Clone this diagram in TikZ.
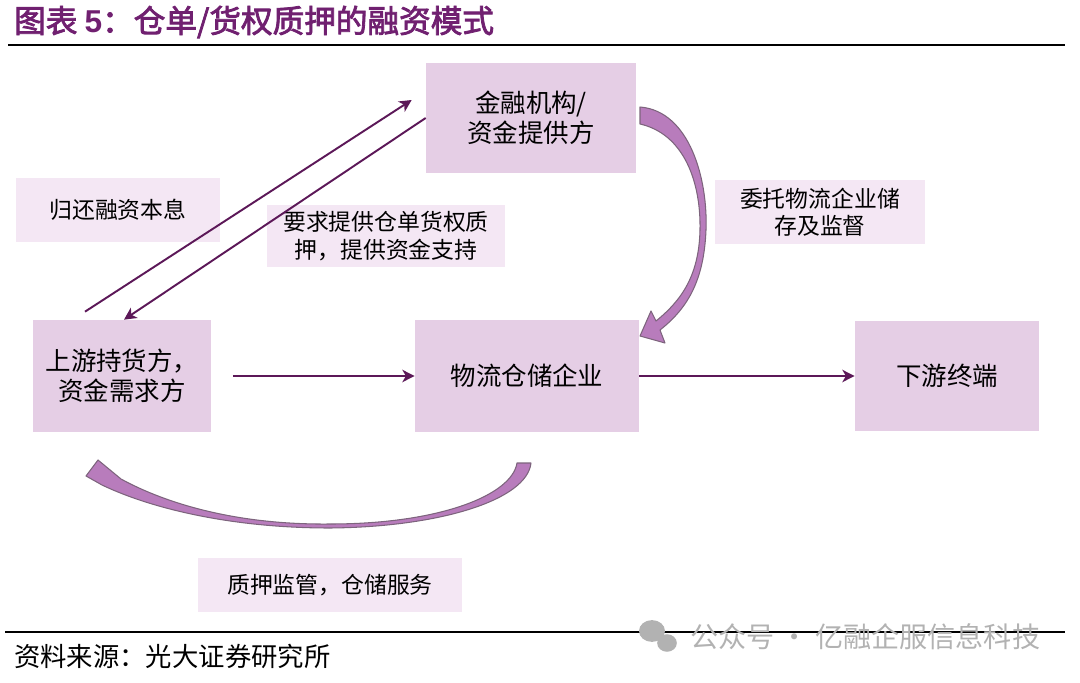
\documentclass[tikz,border=0pt]{standalone}
\usepackage{fontspec}
\setmainfont{Noto Sans CJK SC}
\newfontfamily\titlefont[FakeBold=2.5]{Noto Sans CJK SC}
\newfontfamily\numfont{Liberation Sans}
\usetikzlibrary{arrows.meta}
\definecolor{boxpurple}{RGB}{229,206,229}
\definecolor{notepurple}{RGB}{244,231,244}
\definecolor{linepurple}{RGB}{92,24,88}
\definecolor{bendpurple}{RGB}{184,124,188}
\definecolor{bendedge}{RGB}{125,100,125}
\definecolor{headpurple}{RGB}{112,32,112}

\begin{document}
\begin{tikzpicture}[x=0.02cm,y=-0.02cm,
  party/.style={fill=boxpurple,inner sep=0pt,align=center,font=\fontsize{14.5}{17}\selectfont},
  note/.style={fill=notepurple,inner sep=0pt,align=center,font=\fontsize{13}{15.5}\selectfont},
  flow/.style={linepurple,line width=1.1pt,-{Stealth[length=7pt,width=7pt,inset=2pt]}},
  bigarrow/.style={fill=bendpurple,draw=bendedge,line width=.6pt,line join=round}
]
\useasboundingbox (0,0) rectangle (1080,683);
\node[anchor=west,text=headpurple,font=\titlefont\fontsize{18}{21}\selectfont] (title) at (8,22)
  {图表 {\numfont\bfseries 5}：仓单/货权质押的融资模式};
\draw[line width=1.4pt] (8,45) -- (1065,45);

\node[party,minimum width=4.2cm,minimum height=2.2cm] (fin) at (531,118) {金融机构/\\资金提供方};
\node[party,minimum width=3.58cm,minimum height=2.24cm] (up) at (122,376) {上游持货方，\\资金需求方};
\node[party,minimum width=4.48cm,minimum height=2.24cm] (wh) at (527,376) {物流仓储企业};
\node[party,minimum width=3.68cm,minimum height=2.22cm] (down) at (947,376) {下游终端};

\node[note,minimum width=4.1cm,minimum height=1.3cm] (repay) at (118,210) {归还融资本息};
\node[note,minimum width=4.76cm,minimum height=1.26cm] (ask) at (386,236) {要求提供仓单货权质\\押，提供资金支持};
\node[note,minimum width=4.22cm,minimum height=1.3cm] (trust) at (820,212) {委托物流企业储\\存及监督};
\node[note,minimum width=5.3cm,minimum height=1.08cm] (pledge) at (330,585) {质押监管，仓储服务};

\draw[flow] ([shift={(-37,-8)}]up.north) -- ([shift={(-14,-18)}]fin.west);
\draw[flow] (fin.west) -- ([shift={(2,0)}]up.north);
\draw[flow,shorten <=0.42cm] (up) -- (wh);
\draw[flow] (wh) -- (down);

\draw[bigarrow] (640,107) .. controls (690,111) and (708,180) .. (706,230)
  .. controls (704,280) and (688,308) .. (660,330) -- (665,343) -- (640,336) -- (651,311) -- (656,321)
  .. controls (682,300) and (699,275) .. (700,230) .. controls (701,182) and (684,134) .. (640,124) -- cycle;
\draw[bigarrow] (531,463) .. controls (527,500) and (440,527) .. (330,528)
  .. controls (230,528) and (150,508) .. (102,485) -- (86,476) -- (98,460) -- (121,479)
  .. controls (165,503) and (235,525) .. (330,524) .. controls (440,524) and (512,495) .. (517,463) -- cycle;

\draw[line width=1pt] (5,632) -- (1065,632);
\node[anchor=west,font=\fontsize{15}{18}\selectfont] (src) at (8,656) {资料来源：光大证券研究所};
\fill[black!30] (652,631) ellipse (7.4pt and 6.2pt);
\fill[black!30] (667,643) ellipse (5.6pt and 5pt);
\node[anchor=west,text=black!30,font=\fontsize{16}{19}\selectfont] (mark) at (684,637) {公众号 · 亿融企服信息科技};
\end{tikzpicture}
\end{document}
